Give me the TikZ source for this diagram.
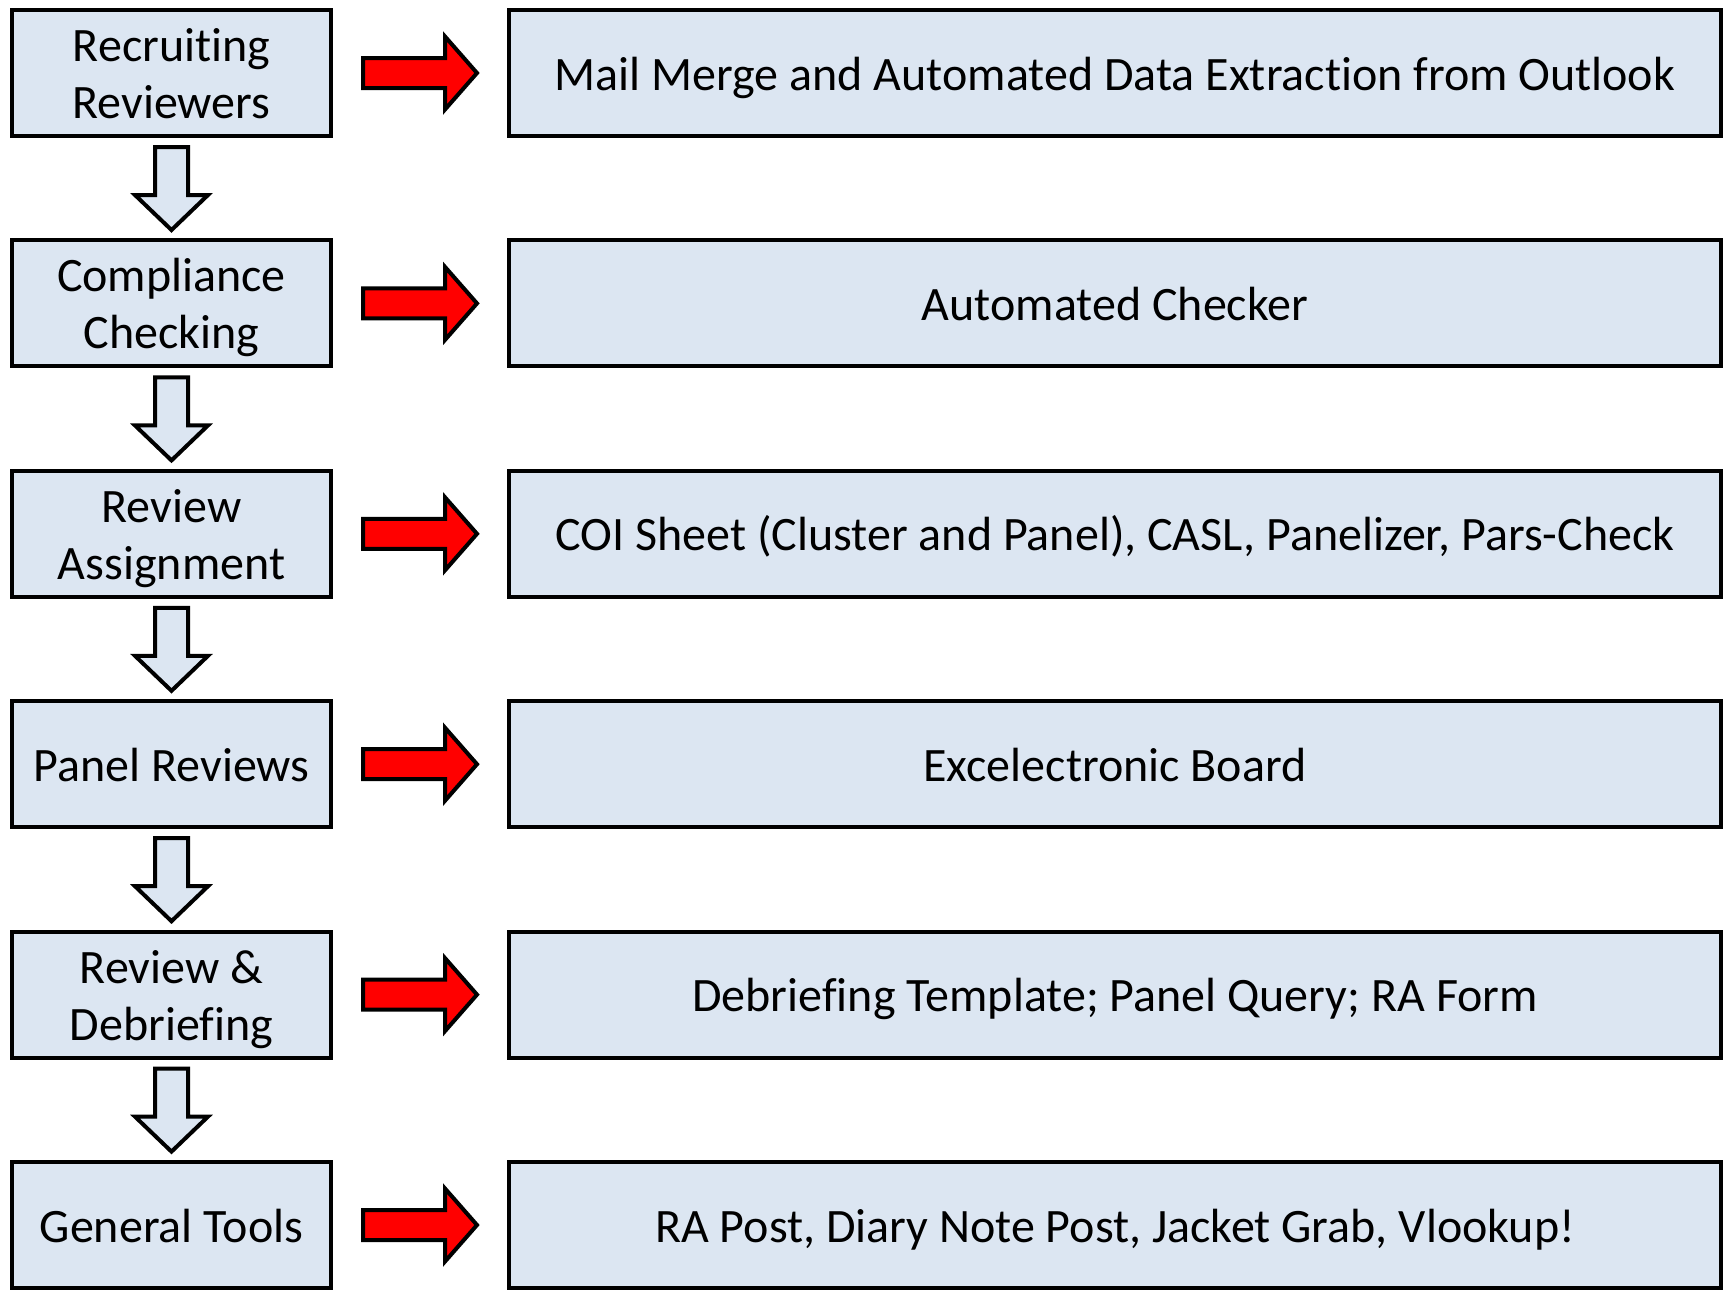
\documentclass[tikz,border=0pt]{standalone}
\usepackage{fontspec}
\setmainfont{Carlito}[Ligatures=CommonOff]
\usetikzlibrary{calc}
\definecolor{boxfill}{HTML}{DCE6F2}
\newcommand\mytopstrut{\rule{0pt}{48pt}}
\newcommand\mybotstrut{\rule[-14pt]{0pt}{14pt}}
\tikzset{
  stepbox/.style={draw=black, line width=4pt, fill=boxfill, minimum width=319pt, minimum height=126pt, inner sep=0pt, align=center, font=\fontsize{48}{57}\selectfont},
  toolbox/.style={stepbox, minimum width=1212pt},
  downarr/.style={draw=black, line width=4pt, fill=boxfill, line join=miter},
  redarr/.style={draw=black, line width=4pt, fill=red, line join=miter}
}
\begin{document}
\begin{tikzpicture}[x=1pt,y=-1pt]
\useasboundingbox (0,0) rectangle (1731,1291);
\foreach \i/\ltxt/\rtxt in {
  1/{Recruiting\\Reviewers}/{Mail Merge and Automated Data Extraction from Outlook},
  2/{Compliance\\Checking}/{Automated Checker},
  3/{Review\\Assignment}/{COI Sheet (Cluster and Panel), CASL, Panelizer, Pars-Check},
  4/{Panel Reviews}/{Excelectronic Board},
  5/{Review \&\\Debriefing}/{Debriefing Template; Panel Query; RA Form},
  6/{General Tools}/{RA Post, Diary Note Post, Jacket Grab, Vlookup!}} {
  \node[stepbox] (L\i) at (171.5, {73+230.4*(\i-1)}) {\mytopstrut\ltxt\mybotstrut};
  \node[toolbox] (R\i) at (1115, {73+230.4*(\i-1)}) {\mytopstrut\rtxt\mybotstrut};
  \draw[redarr] ($(L\i.east)+(30,-15)$) -- ++(82,0) -- ++(0,-21.5) -- ($(L\i.east)+(144,0)$)
     -- ($(L\i.east)+(112,36.5)$) -- ++(0,-21.5) -- ($(L\i.east)+(30,15)$) -- cycle;
}
\foreach \i in {1,...,5} {
  \draw[downarr] ($(L\i.south)+(-16.5,9)$) -- ++(33,0) -- ++(0,48) -- ++(20,0) -- ($(L\i.south)+(0,92)$)
     -- ($(L\i.south)+(-36.5,57)$) -- ++(20,0) -- cycle;
}
\end{tikzpicture}
\end{document}
